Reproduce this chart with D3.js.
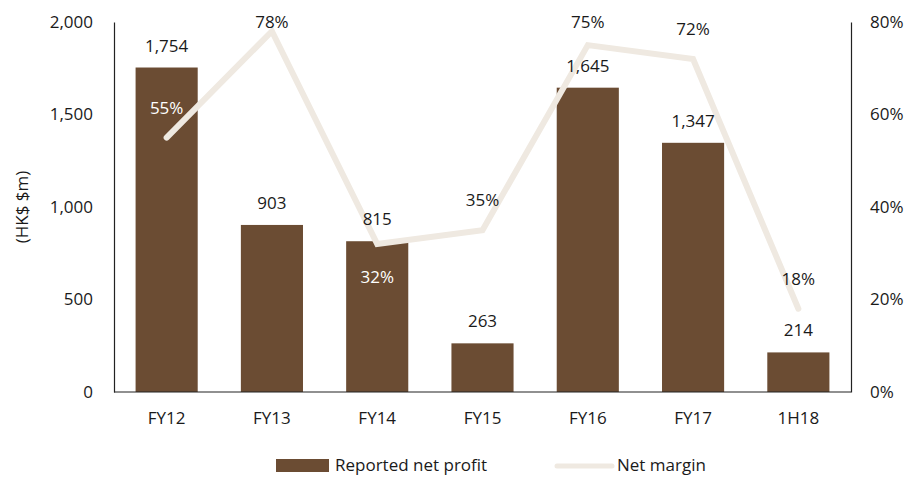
<!DOCTYPE html>
<html>
<head>
<meta charset="utf-8">
<script src="https://cdn.jsdelivr.net/npm/d3@7/dist/d3.min.js"></script>
<style>
  html, body { margin: 0; padding: 0; background: #ffffff; }
  svg { display: block; }
  text { font-family: "Open Sans", "Noto Sans", sans-serif; }
</style>
</head>
<body>
<svg id="chart" width="913" height="477"></svg>
<script>
// Reported net profit (HK$ m) and net margin by period
const categories = ["FY12", "FY13", "FY14", "FY15", "FY16", "FY17", "1H18"];
const profit = [1754, 903, 815, 263, 1645, 1347, 214];
const margin = [0.55, 0.78, 0.32, 0.35, 0.75, 0.72, 0.18];
const leftTicks = [0, 500, 1000, 1500, 2000];
const rightTicks = [0, 0.2, 0.4, 0.6, 0.8];

const plot = { left: 114, right: 851, top: 22, bottom: 392 };
const barColor = "#6b4c33";
const lineColor = "#efe9e1";
const textColor = "#1a1a1a";

const svg = d3.select("#chart");

const x = d3.scaleBand().domain(categories).range([plot.left, plot.right]).paddingInner(0.41).paddingOuter(0.205);
const yL = d3.scaleLinear().domain([0, 2000]).range([plot.bottom, plot.top]);
const yR = d3.scaleLinear().domain([0, 0.8]).range([plot.bottom, plot.top]);

// Bars
svg.append("g").selectAll("rect").data(profit).join("rect")
  .attr("x", (d, i) => x(categories[i]))
  .attr("y", d => yL(d))
  .attr("width", x.bandwidth())
  .attr("height", d => yL(0) - yL(d))
  .attr("fill", barColor);

// Axes (lines only, no tick marks)
const axL = svg.append("g").attr("transform", `translate(${plot.left},0)`)
  .call(d3.axisLeft(yL).tickValues(leftTicks).tickSize(0).tickPadding(21).tickFormat(d3.format(",")));
const axR = svg.append("g").attr("transform", `translate(${plot.right},0)`)
  .call(d3.axisRight(yR).tickValues(rightTicks).tickSize(0).tickPadding(19).tickFormat(d3.format(".0%")));
const axB = svg.append("g").attr("transform", `translate(0,${plot.bottom})`)
  .call(d3.axisBottom(x).tickSize(0).tickPadding(20));
[axL, axR, axB].forEach(g => {
  g.select(".domain").attr("stroke", "#222").attr("stroke-width", 1.2);
  g.selectAll("text").attr("font-size", 17).attr("fill", textColor)
    .attr("font-family", "'Open Sans', sans-serif");
});
axB.select(".domain").attr("d", `M${plot.left},0H${plot.right}`);

// Y-axis title
svg.append("text")
  .attr("transform", `translate(23,${(plot.top + plot.bottom) / 2}) rotate(-90)`)
  .attr("text-anchor", "middle").attr("dominant-baseline", "middle")
  .attr("font-size", 17).attr("fill", textColor)
  .text("(HK$ $m)");

// Net margin line
const cx = (i) => x(categories[i]) + x.bandwidth() / 2;
svg.append("path")
  .datum(margin)
  .attr("fill", "none")
  .attr("stroke", lineColor)
  .attr("stroke-width", 6)
  .attr("stroke-linecap", "round")
  .attr("stroke-linejoin", "miter")
  .attr("d", d3.line().x((d, i) => cx(i)).y(d => yR(d)));

// Profit value labels above bars
svg.append("g").selectAll("text").data(profit).join("text")
  .attr("x", (d, i) => cx(i))
  .attr("y", d => yL(d) - 16)
  .attr("text-anchor", "middle")
  .attr("font-size", 17).attr("fill", textColor)
  .text(d3.format(","));

// Margin labels: above the point, kept inside the plot top; FY14 placed below
const marginBelow = [false, false, true, false, false, false, false];
svg.append("g").selectAll("text").data(margin).join("text")
  .attr("x", (d, i) => cx(i))
  .attr("y", (d, i) => marginBelow[i] ? yR(d) + 39 : Math.max(yR(d) - 24, 28))
  .attr("text-anchor", "middle")
  .attr("font-size", 17)
  .attr("fill", (d, i) => (yR(d) > yL(profit[i]) ? "#ffffff" : textColor))
  .text(d3.format(".0%"));

// Legend
const lg = svg.append("g");
lg.append("rect").attr("x", 276).attr("y", 459).attr("width", 53).attr("height", 13).attr("fill", barColor);
lg.append("text").attr("x", 335).attr("y", 471).attr("font-size", 17).attr("fill", textColor).text("Reported net profit");
lg.append("line").attr("x1", 557).attr("x2", 612).attr("y1", 466).attr("y2", 466)
  .attr("stroke", lineColor).attr("stroke-width", 5).attr("stroke-linecap", "round");
lg.append("text").attr("x", 617).attr("y", 471).attr("font-size", 17).attr("fill", textColor).text("Net margin");
</script>
</body>
</html>
